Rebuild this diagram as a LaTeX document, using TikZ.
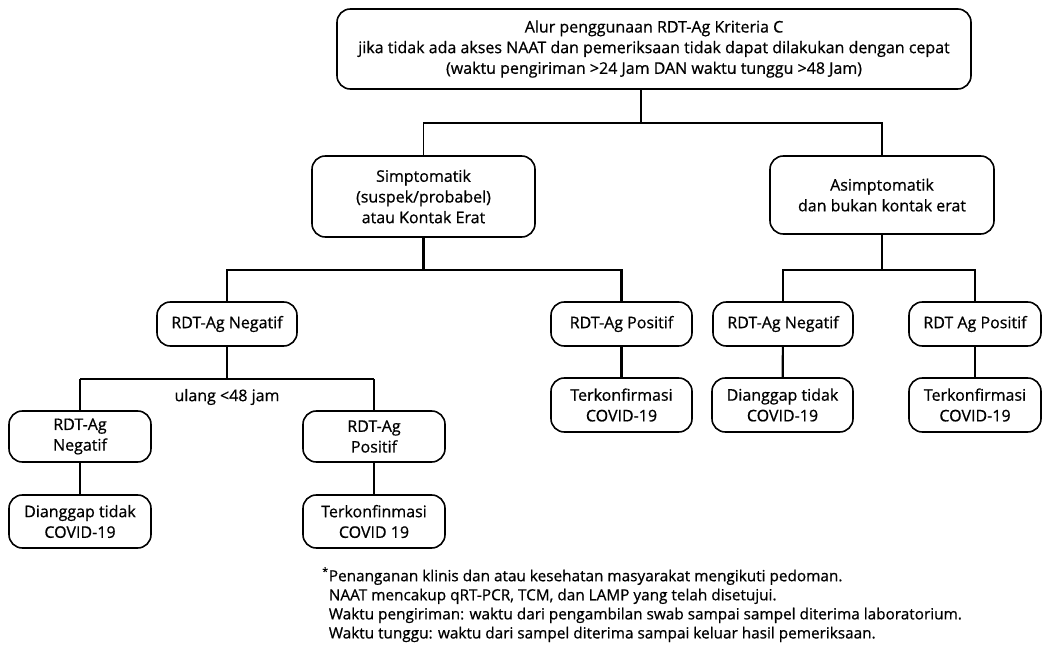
\documentclass[tikz,border=0pt]{standalone}
\usepackage{fontspec}
\setmainfont{Open Sans}[FakeBold=0.7]
\newdimen\unitpx \unitpx=0.75pt
\begin{document}
\begin{tikzpicture}[x=0.75pt,y=-0.75pt,font=\fontsize{12}{15.5}\selectfont,
  flowbox/.style={draw,line width=1.2pt,rounded corners=10pt,align=center,inner sep=2pt,outer sep=0pt},
  thinline/.style={line width=0.8pt},
  thickline/.style={line width=1.6pt}]
\useasboundingbox (0,0) rectangle (1042,659);
% top level
\node[flowbox,minimum width=634\unitpx,minimum height=80\unitpx] (top) at (654,49) {Alur penggunaan RDT-Ag Kriteria C\\jika tidak ada akses NAAT dan pemeriksaan tidak dapat dilakukan dengan cepat\\(waktu pengiriman >24 Jam DAN waktu tunggu >48 Jam)};
\node[flowbox,minimum width=223\unitpx,minimum height=81\unitpx] (simp) at (423.5,196.5) {Simptomatik\\(suspek/probabel)\\atau Kontak Erat};
\node[flowbox,minimum width=224\unitpx,minimum height=78\unitpx] (asim) at (882,195) {Asimptomatik\\dan bukan kontak erat};
% first test
\node[flowbox,minimum width=140\unitpx,minimum height=44\unitpx] (negA) at (227,324) {RDT-Ag Negatif};
\node[flowbox,minimum width=141\unitpx,minimum height=44\unitpx] (posA) at (621.5,324) {RDT-Ag Positif};
\node[flowbox,minimum width=140\unitpx,minimum height=44\unitpx] (negB) at (783,324) {RDT-Ag Negatif};
\node[flowbox,minimum width=132\unitpx,minimum height=44\unitpx] (posB) at (975,324) {RDT Ag Positif};
\node[flowbox,minimum width=141\unitpx,minimum height=54\unitpx] (confA) at (621.5,405) {Terkonfirmasi\\COVID-19};
\node[flowbox,minimum width=141\unitpx,minimum height=54\unitpx] (tidakB) at (782.5,405) {Dianggap tidak\\COVID-19};
\node[flowbox,minimum width=132\unitpx,minimum height=54\unitpx] (confB) at (975,405) {Terkonfirmasi\\COVID-19};
% repeat test
\node (ulang) at (227,397) {ulang <48 jam};
\node[flowbox,minimum width=142\unitpx,minimum height=51\unitpx] (negC) at (80,436.5) {RDT-Ag\\Negatif};
\node[flowbox,minimum width=142\unitpx,minimum height=51\unitpx] (posC) at (374,436.5) {RDT-Ag\\Positif};
\node[flowbox,minimum width=142\unitpx,minimum height=53\unitpx] (tidakC) at (80,521.5) {Dianggap tidak\\COVID-19};
\node[flowbox,minimum width=142\unitpx,minimum height=53\unitpx] (confC) at (374,521.5) {Terkonfinmasi\\COVID 19};
% note
\node[anchor=north west,align=left,inner sep=0pt,font=\fontsize{11.5}{14.3}\selectfont] (note) at (322,567) {\textsuperscript{*}Penanganan klinis dan atau kesehatan masyarakat mengikuti pedoman.\\
\hphantom{\textsuperscript{*}}NAAT mencakup qRT-PCR, TCM, dan LAMP yang telah disetujui.\\
\hphantom{\textsuperscript{*}}Waktu pengiriman: waktu dari pengambilan swab sampai sampel diterima laboratorium.\\
\hphantom{\textsuperscript{*}}Waktu tunggu: waktu dari sampel diterima sampai keluar hasil pemeriksaan.};
% connectors
\coordinate (j0) at (641,123);
\coordinate (j1) at (423.5,270);
\coordinate (j2) at (227,379);
\draw[thinline] (top.south -| j0) -- (j0);
\draw[thinline] (simp.north) -- (simp.north |- j0) -- (asim.north |- j0) -- (asim.north);
\draw[thickline] (simp.south) -- (j1);
\draw[thickline] (negA.north) |- (j1) -| (posA.north);
\draw[thinline] (asim.south) -- (asim.south |- j1);
\draw[thickline] (negB.north) |- (asim.south |- j1) -| (posB.north);
\draw[thickline] (posA) -- (confA);
\draw[thickline] (negB) -- (tidakB);
\draw[thickline] (posB) -- (confB);
\draw[thickline] (negA.south) -- (j2);
\draw[thickline] (negC.north |- j2) -- (posC.north |- j2);
\draw[thinline] (negC.north |- j2) -- (negC.north);
\draw[thinline] (posC.north |- j2) -- (posC.north);
\draw[thinline] (negC) -- (tidakC);
\draw[thinline] (posC) -- (confC);
\end{tikzpicture}
\end{document}
